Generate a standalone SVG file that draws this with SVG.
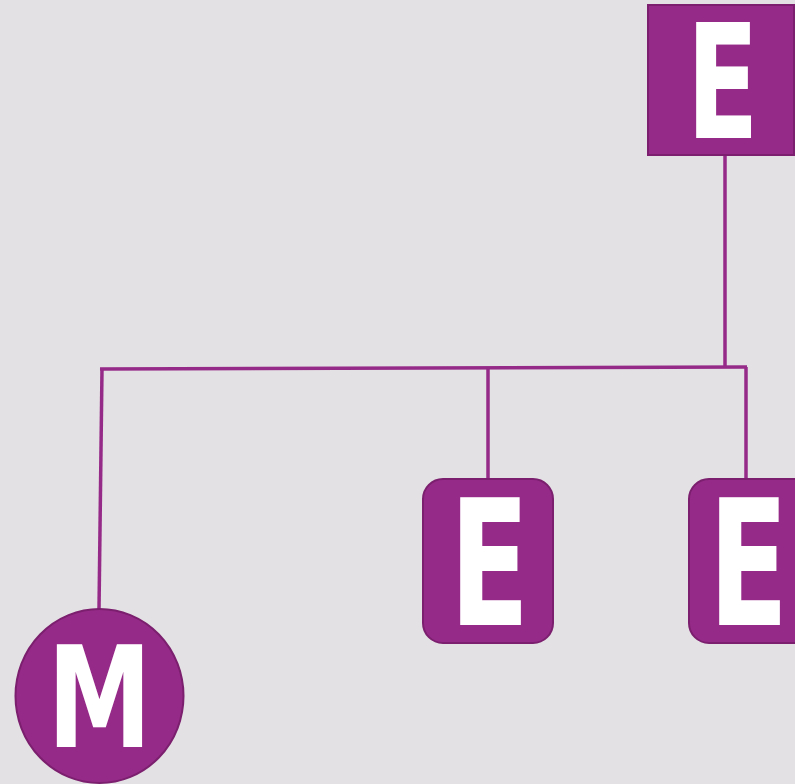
<svg xmlns="http://www.w3.org/2000/svg" width="795" height="784" viewBox="0 0 795 784">
<style>
.node{fill:#962a88;stroke:#7b1f6e;stroke-width:2}
.lbl{fill:#ffffff;font-family:"DejaVu Sans",sans-serif;font-weight:bold;text-anchor:middle}
.conn{stroke:#962a88;stroke-width:3.5;fill:none}
</style>
<rect width="795" height="784" fill="#e3e1e3"/>
<g id="connectors">
<line class="conn" x1="725" y1="155" x2="725" y2="367"/>
<line class="conn" x1="100" y1="369" x2="747" y2="367"/>
<line class="conn" x1="488" y1="368" x2="488" y2="479"/>
<line class="conn" x1="746" y1="367" x2="746" y2="479"/>
<line class="conn" x1="102" y1="369" x2="99" y2="609"/>
</g>
<g id="node-top">
<rect class="node" x="648" y="5" width="146" height="150"/>
<text class="lbl" font-size="159" transform="translate(722.5,138) scale(0.665,1)">E</text>
</g>
<g id="node-mid">
<rect class="node" x="423" y="479" width="130" height="164" rx="20"/>
<text class="lbl" font-size="175.6" transform="translate(489.5,625) scale(0.666,1)">E</text>
</g>
<g id="node-right">
<rect class="node" x="689" y="479" width="130" height="164" rx="20"/>
<text class="lbl" font-size="175.6" transform="translate(748.5,625) scale(0.666,1)">E</text>
</g>
<g id="node-m">
<ellipse class="node" cx="99.5" cy="696" rx="84" ry="87"/>
<text class="lbl" font-size="140" transform="translate(99.5,747) scale(0.75,1)">M</text>
</g>
</svg>
